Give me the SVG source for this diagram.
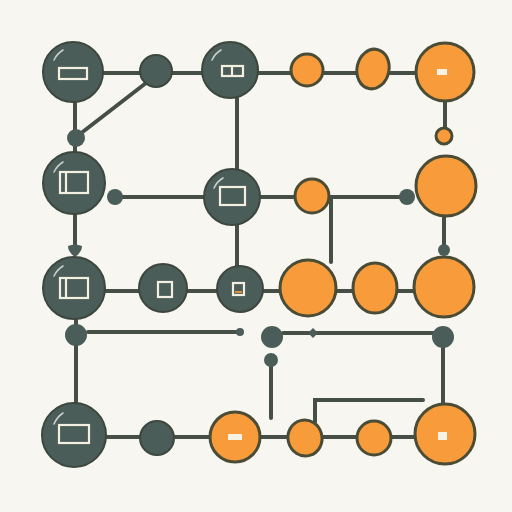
<svg xmlns="http://www.w3.org/2000/svg" width="512" height="512" viewBox="0 0 512 512">
<style>
.bg{fill:#f7f6f1}
.ln{stroke:#454f46;stroke-width:4;fill:none;stroke-linecap:round}
.dk{fill:#4a5d59;stroke:#3c473e;stroke-width:2}
.dt{fill:#4a5d59}
.or{fill:#f89b3a;stroke:#4a4c36;stroke-width:3}
.ic{fill:none;stroke:#f3f0e2;stroke-width:2.2}
.wf{fill:#f6f2e4}
.hl{fill:none;stroke:#ffffff;stroke-width:1.6;stroke-opacity:0.7;stroke-linecap:round}
</style>
<rect class="bg" width="512" height="512"/>
<g id="connectors">
<line class="ln" x1="103" y1="73" x2="417" y2="73"/>
<line class="ln" x1="146" y1="83" x2="80" y2="134"/>
<line class="ln" x1="75" y1="100" x2="75" y2="152"/>
<line class="ln" x1="237" y1="98" x2="237" y2="170"/>
<line class="ln" x1="445" y1="100" x2="445" y2="130"/>
<line class="ln" x1="75" y1="214" x2="75" y2="246"/>
<line class="ln" x1="115" y1="197" x2="407" y2="197"/>
<line class="ln" x1="331" y1="197" x2="331" y2="262"/>
<line class="ln" x1="237" y1="224" x2="237" y2="267"/>
<line class="ln" x1="444" y1="215" x2="444" y2="250"/>
<line class="ln" x1="104" y1="291" x2="416" y2="291"/>
<line class="ln" x1="76" y1="318" x2="76" y2="404"/>
<line class="ln" x1="88" y1="332" x2="240" y2="332"/>
<line class="ln" x1="283" y1="333" x2="443" y2="333"/>
<line class="ln" x1="271" y1="366" x2="271" y2="418"/>
<line class="ln" x1="443" y1="346" x2="443" y2="404"/>
<polyline class="ln" points="315,422 315,400 423,400"/>
<line class="ln" x1="104" y1="437" x2="415" y2="437"/>
</g>
<g id="n1"><circle class="dk" cx="73" cy="72" r="30"/><path class="hl" d="M54,60 A24,24 0 0 1 63,50"/><rect class="ic" x="59" y="68" width="28" height="11"/></g>
<g id="n2"><circle class="dk" cx="156" cy="71" r="16"/></g>
<g id="n3"><circle class="dk" cx="230" cy="70" r="28"/><path class="hl" d="M212,60 A22,22 0 0 1 221,50"/><rect class="ic" x="222" y="66" width="21" height="10"/><line class="ic" x1="232" y1="66" x2="232" y2="76"/></g>
<g id="n4"><circle class="or" cx="307" cy="70" r="16"/></g>
<g id="n5"><ellipse class="or" cx="373" cy="69" rx="16" ry="20" transform="rotate(12 373 69)"/></g>
<g id="n6"><circle class="or" cx="445" cy="72" r="29"/><rect class="wf" x="437" y="69" width="10" height="6"/></g>
<g id="n7"><circle class="or" cx="444" cy="136" r="8"/></g>
<g id="n8"><circle class="dt" cx="76" cy="138" r="9"/></g>
<g id="n9"><circle class="dk" cx="74" cy="183" r="31"/><path class="hl" d="M54,172 A24,24 0 0 1 63,162"/><rect class="ic" x="60" y="172" width="28" height="21"/><line class="ic" x1="66" y1="172" x2="66" y2="193"/></g>
<g id="n10"><circle class="dt" cx="115" cy="197" r="8"/></g>
<g id="n11"><circle class="dk" cx="232" cy="197" r="28"/><path class="hl" d="M214,188 A22,22 0 0 1 223,178"/><rect class="ic" x="220" y="187" width="25" height="18"/></g>
<g id="n12"><circle class="or" cx="312" cy="196" r="17"/></g>
<g id="n13"><circle class="dt" cx="407" cy="197" r="8"/></g>
<g id="n14"><circle class="or" cx="446" cy="186" r="30"/></g>
<g id="n15"><circle class="dt" cx="444" cy="250" r="6"/></g>
<g id="n16"><path class="dt" d="M68,246 Q75,243 82,246 Q82,252 75,257 Q68,252 68,246 Z"/></g>
<g id="n17"><circle class="dk" cx="74" cy="288" r="31"/><path class="hl" d="M54,276 A24,24 0 0 1 63,266"/><rect class="ic" x="60" y="278" width="28" height="20"/><line class="ic" x1="66" y1="278" x2="66" y2="298"/></g>
<g id="n18"><circle class="dk" cx="163" cy="288" r="24"/><rect class="ic" x="158" y="282" width="14" height="15"/></g>
<g id="n19"><circle class="dk" cx="240" cy="289" r="23"/><rect class="ic" x="233" y="283" width="11" height="12"/><rect x="235" y="291" width="7" height="2" fill="#e0903a"/></g>
<g id="n20"><circle class="or" cx="308" cy="288" r="28"/></g>
<g id="n21"><ellipse class="or" cx="375" cy="288" rx="22" ry="25"/></g>
<g id="n22"><circle class="or" cx="444" cy="287" r="30"/></g>
<g id="n23"><circle class="dt" cx="76" cy="335" r="11"/></g>
<g id="n24"><circle class="dt" cx="240" cy="332" r="4"/></g>
<g id="n25"><circle class="dt" cx="272" cy="337" r="11"/></g>
<g id="n26"><path class="dt" d="M313,328 L318,333 L313,338 L308,333 Z"/></g>
<g id="n27"><circle class="dt" cx="443" cy="337" r="11"/></g>
<g id="n28"><circle class="dt" cx="271" cy="360" r="7"/></g>
<g id="n29"><circle class="dk" cx="74" cy="435" r="32"/><path class="hl" d="M54,424 A25,25 0 0 1 63,413"/><rect class="ic" x="59" y="425" width="30" height="18"/></g>
<g id="n30"><circle class="dk" cx="157" cy="438" r="17"/></g>
<g id="n31"><circle class="or" cx="235" cy="437" r="25"/><rect class="wf" x="228" y="434" width="14" height="6"/></g>
<g id="n32"><ellipse class="or" cx="305" cy="438" rx="17" ry="18" transform="rotate(-15 305 438)"/></g>
<g id="n33"><circle class="or" cx="374" cy="438" r="17"/></g>
<g id="n34"><circle class="or" cx="445" cy="434" r="30"/><rect class="wf" x="438" y="432" width="9" height="8"/></g>
</svg>
